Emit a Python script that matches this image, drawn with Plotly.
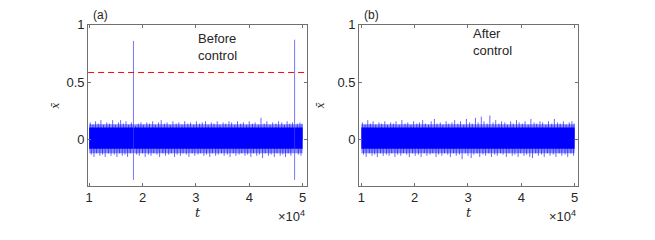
import plotly.graph_objects as go

T_SCALE = 1e4  # time values below are given in units of 10^4

# ---------------- data ----------------
tick_vals = [1, 2, 3, 4, 5]
tick_text = ["1", "2", "3", "4", "5"]
y_tick_vals = [0, 0.5, 1]
y_tick_text = ["0", "0.5", "1"]

signal_start, signal_end = 1.0, 5.0
core_hi, core_lo = 0.105, -0.078
fringe_hi, fringe_lo = 0.135, -0.118
threshold = 0.585

# panel (a): before control
burst_t_a = [1.83, 4.85]
burst_hi_a = [0.86, 0.87]
burst_lo_a = [-0.35, -0.35]

up_t_a = [1.02, 1.07, 1.12, 1.17, 1.22, 1.27, 1.33, 1.38, 1.44, 1.49, 1.55, 1.59, 1.64, 1.69, 1.74, 1.79,
          1.87, 1.92, 1.97, 2.02, 2.08, 2.13, 2.19, 2.24, 2.30, 2.35, 2.41, 2.46, 2.52, 2.57, 2.63, 2.68,
          2.74, 2.79, 2.85, 2.90, 2.96, 3.01, 3.07, 3.12, 3.18, 3.23, 3.29, 3.34, 3.40, 3.45, 3.51, 3.56,
          3.62, 3.67, 3.73, 3.78, 3.84, 3.89, 3.95, 4.00, 4.06, 4.11, 4.17, 4.22, 4.28, 4.33, 4.39, 4.44,
          4.50, 4.55, 4.61, 4.66, 4.71, 4.76, 4.81, 4.90, 4.95, 4.99]
up_v_a = [0.15, 0.13, 0.16, 0.14, 0.17, 0.13, 0.15, 0.14, 0.17, 0.13, 0.15, 0.17, 0.14, 0.16, 0.13, 0.15,
          0.12, 0.14, 0.15, 0.13, 0.15, 0.14, 0.16, 0.13, 0.15, 0.17, 0.14, 0.15, 0.13, 0.16, 0.14, 0.15,
          0.13, 0.16, 0.14, 0.15, 0.13, 0.16, 0.14, 0.15, 0.16, 0.13, 0.15, 0.14, 0.16, 0.13, 0.15, 0.14,
          0.16, 0.15, 0.13, 0.16, 0.14, 0.15, 0.13, 0.16, 0.14, 0.15, 0.13, 0.19, 0.14, 0.16, 0.13, 0.15,
          0.14, 0.16, 0.15, 0.13, 0.16, 0.14, 0.15, 0.14, 0.15, 0.14]
lo_t_a = [1.04, 1.09, 1.14, 1.20, 1.25, 1.30, 1.36, 1.41, 1.47, 1.52, 1.57, 1.62, 1.67, 1.72, 1.77,
          1.89, 1.94, 2.00, 2.05, 2.11, 2.16, 2.21, 2.27, 2.32, 2.38, 2.43, 2.49, 2.54, 2.60, 2.65, 2.71,
          2.76, 2.82, 2.87, 2.93, 2.98, 3.04, 3.09, 3.15, 3.20, 3.26, 3.31, 3.37, 3.42, 3.48, 3.53, 3.59,
          3.64, 3.70, 3.75, 3.81, 3.86, 3.92, 3.97, 4.03, 4.08, 4.14, 4.19, 4.25, 4.30, 4.36, 4.41, 4.47,
          4.52, 4.58, 4.63, 4.68, 4.73, 4.78, 4.92, 4.97]
lo_v_a = [-0.13, -0.15, -0.12, -0.14, -0.13, -0.15, -0.12, -0.14, -0.13, -0.15, -0.12, -0.14, -0.13, -0.15, -0.12,
          -0.13, -0.14, -0.12, -0.15, -0.13, -0.14, -0.12, -0.13, -0.15, -0.12, -0.14, -0.13, -0.12, -0.15, -0.13, -0.14,
          -0.12, -0.13, -0.15, -0.12, -0.14, -0.13, -0.12, -0.14, -0.13, -0.15, -0.12, -0.14, -0.13, -0.12, -0.14, -0.13,
          -0.15, -0.12, -0.14, -0.13, -0.12, -0.14, -0.13, -0.15, -0.12, -0.14, -0.13, -0.16, -0.12, -0.14, -0.13, -0.15,
          -0.12, -0.14, -0.13, -0.15, -0.12, -0.14, -0.13, -0.14]

# panel (b): after control
up_t_b = [1.02, 1.07, 1.12, 1.17, 1.22, 1.27, 1.33, 1.38, 1.44, 1.49, 1.55, 1.60, 1.65, 1.71, 1.76, 1.82,
          1.87, 1.93, 1.98, 2.04, 2.09, 2.15, 2.20, 2.26, 2.31, 2.37, 2.42, 2.48, 2.53, 2.59, 2.64, 2.70,
          2.75, 2.81, 2.86, 2.92, 2.97, 3.03, 3.08, 3.14, 3.19, 3.25, 3.30, 3.36, 3.41, 3.47, 3.52, 3.58,
          3.63, 3.69, 3.74, 3.80, 3.85, 3.91, 3.96, 4.02, 4.07, 4.13, 4.18, 4.24, 4.29, 4.35, 4.40, 4.46,
          4.51, 4.57, 4.62, 4.68, 4.73, 4.79, 4.84, 4.90, 4.95, 4.99]
up_v_b = [0.15, 0.13, 0.17, 0.14, 0.16, 0.13, 0.15, 0.14, 0.16, 0.13, 0.15, 0.14, 0.16, 0.13, 0.17, 0.14,
          0.15, 0.13, 0.16, 0.14, 0.15, 0.17, 0.14, 0.13, 0.16, 0.18, 0.14, 0.15, 0.13, 0.16, 0.14, 0.15,
          0.17, 0.14, 0.16, 0.13, 0.18, 0.15, 0.14, 0.19, 0.15, 0.20, 0.16, 0.14, 0.21, 0.15, 0.17, 0.14,
          0.16, 0.15, 0.13, 0.16, 0.14, 0.17, 0.15, 0.14, 0.16, 0.13, 0.18, 0.15, 0.14, 0.16, 0.15, 0.13,
          0.16, 0.14, 0.18, 0.15, 0.14, 0.16, 0.13, 0.15, 0.16, 0.14]
lo_t_b = [1.04, 1.09, 1.15, 1.20, 1.25, 1.30, 1.36, 1.41, 1.47, 1.52, 1.57, 1.63, 1.68, 1.74, 1.79, 1.85,
          1.90, 1.96, 2.01, 2.07, 2.12, 2.18, 2.23, 2.29, 2.34, 2.40, 2.45, 2.51, 2.56, 2.62, 2.67, 2.73,
          2.78, 2.84, 2.89, 2.95, 3.00, 3.06, 3.11, 3.17, 3.22, 3.28, 3.33, 3.39, 3.44, 3.50, 3.55, 3.61,
          3.66, 3.72, 3.77, 3.83, 3.88, 3.94, 3.99, 4.05, 4.10, 4.16, 4.21, 4.27, 4.32, 4.38, 4.43, 4.49,
          4.54, 4.60, 4.65, 4.71, 4.76, 4.82, 4.87, 4.93, 4.98]
lo_v_b = [-0.13, -0.15, -0.12, -0.14, -0.13, -0.15, -0.12, -0.14, -0.13, -0.14, -0.12, -0.15, -0.13, -0.14, -0.12, -0.13,
          -0.15, -0.12, -0.14, -0.13, -0.15, -0.12, -0.14, -0.13, -0.12, -0.15, -0.13, -0.14, -0.12, -0.13, -0.15, -0.12,
          -0.14, -0.13, -0.17, -0.12, -0.14, -0.16, -0.13, -0.12, -0.15, -0.13, -0.14, -0.12, -0.15, -0.13, -0.14, -0.12,
          -0.13, -0.15, -0.12, -0.14, -0.13, -0.15, -0.12, -0.14, -0.13, -0.15, -0.16, -0.12, -0.14, -0.13, -0.15, -0.12,
          -0.14, -0.13, -0.15, -0.12, -0.14, -0.13, -0.15, -0.12, -0.14]

x_range_a = [0.98, 5.075]
x_range_b = [0.957, 5.07]
y_range = [-0.4, 1.0]

# ---------------- figure ----------------
BLUE = "#0000ff"
AX = "#707070"
FONT = "Liberation Sans"

fig = go.Figure()


def s(v):
    return [x * T_SCALE for x in v]


def segments(ts, v0, v1):
    xs, ys = [], []
    for t, a, b in zip(ts, v0, v1):
        xs += [t * T_SCALE, t * T_SCALE, None]
        ys += [a, b, None]
    return xs, ys


def add_panel(xa, ya, up_t, up_v, lo_t, lo_v, bt=None, bh=None, bl=None):
    fig.add_trace(go.Scatter(
        x=s([signal_start, signal_end, signal_end, signal_start, signal_start]),
        y=[fringe_hi, fringe_hi, fringe_lo, fringe_lo, fringe_hi],
        fill="toself", fillcolor="rgba(0,0,255,0.45)", line=dict(width=0),
        mode="lines", xaxis=xa, yaxis=ya, hoverinfo="skip"))
    fig.add_trace(go.Scatter(
        x=s([signal_start, signal_end, signal_end, signal_start, signal_start]),
        y=[core_hi, core_hi, core_lo, core_lo, core_hi],
        fill="toself", fillcolor=BLUE, line=dict(width=0),
        mode="lines", xaxis=xa, yaxis=ya, hoverinfo="skip"))
    xs, ys = segments(up_t, [0] * len(up_t), up_v)
    xs2, ys2 = segments(lo_t, [0] * len(lo_t), lo_v)
    fig.add_trace(go.Scatter(x=xs + xs2, y=ys + ys2, mode="lines",
                             line=dict(color="rgba(0,0,255,0.6)", width=1),
                             xaxis=xa, yaxis=ya, hoverinfo="skip"))
    if bt:
        xs, ys = segments(bt, bl, bh)
        fig.add_trace(go.Scatter(x=xs, y=ys, mode="lines",
                                 line=dict(color="rgba(60,60,255,0.7)", width=1),
                                 xaxis=xa, yaxis=ya, hoverinfo="skip"))


add_panel("x", "y", up_t_a, up_v_a, lo_t_a, lo_v_a, burst_t_a, burst_hi_a, burst_lo_a)
add_panel("x2", "y2", up_t_b, up_v_b, lo_t_b, lo_v_b)

fig.add_trace(go.Scatter(x=s(x_range_a), y=[threshold, threshold], mode="lines",
                         line=dict(color="#ff0000", width=1, dash="6px,4px"),
                         xaxis="x", yaxis="y", hoverinfo="skip"))

W, H = 655, 240
dom_a = [85.5 / W, 305 / W]
dom_b = [357.7 / W, 578 / W]
dom_y = [1 - 184 / H, 1 - 18.3 / H]

axis_common = dict(showline=True, linecolor=AX, linewidth=1, mirror="ticks",
                   ticks="inside", ticklen=3, tickcolor=AX, showgrid=False, zeroline=False,
                   tickfont=dict(family=FONT, size=13, color="#262626"))

fig.update_layout(
    width=W, height=H, margin=dict(l=0, r=0, t=0, b=0),
    paper_bgcolor="white", plot_bgcolor="white", showlegend=False,
    xaxis=dict(domain=dom_a, range=s(x_range_a), tickvals=s(tick_vals), ticktext=tick_text,
               anchor="y", **axis_common),
    yaxis=dict(domain=dom_y, range=y_range, tickvals=y_tick_vals, ticktext=y_tick_text,
               anchor="x", **axis_common),
    xaxis2=dict(domain=dom_b, range=s(x_range_b), tickvals=s(tick_vals), ticktext=tick_text,
                anchor="y2", **axis_common),
    yaxis2=dict(domain=dom_y, range=y_range, tickvals=y_tick_vals, ticktext=y_tick_text,
                anchor="x2", **axis_common),
)

ann = []
txt = dict(family=FONT, size=13, color="#262626")
small = dict(family=FONT, size=12, color="#262626")
serif = dict(family="DejaVu Serif", size=13, color="#262626")
for label, px in (("(a)", 88), ("(b)", 361)):
    ann.append(dict(text=label, x=px / W, y=1 - 8 / H, xref="paper", yref="paper",
                    xanchor="left", yanchor="middle", showarrow=False, font=small))
for cx in ((86 + 305) / 2, (357.7 + 578) / 2):
    ann.append(dict(text="<i>t</i>", x=cx / W, y=1 - 212 / H, xref="paper", yref="paper",
                    xanchor="center", yanchor="middle", showarrow=False, font=serif))
for rx in (305, 578):
    ann.append(dict(text="×10<sup>4</sup>", x=rx / W, y=1 - 215 / H, xref="paper", yref="paper",
                    xanchor="right", yanchor="middle", showarrow=False, font=txt))
for lx in (52, 319):
    ann.append(dict(text="<i>x̄</i>", x=lx / W, y=1 - 101 / H, xref="paper", yref="paper",
                    xanchor="center", yanchor="middle", showarrow=False, textangle=-90,
                    font=dict(family="DejaVu Serif", size=11, color="#262626")))
ann.append(dict(text="Before<br>control", x=194 / W, y=1 - 41 / H, xref="paper", yref="paper",
                xanchor="left", yanchor="middle", align="left", showarrow=False, font=txt))
ann.append(dict(text="After<br>control", x=470 / W, y=1 - 36 / H, xref="paper", yref="paper",
                xanchor="left", yanchor="middle", align="left", showarrow=False, font=txt))
fig.update_layout(annotations=ann)

fig.write_html("out.html", config={"displayModeBar": False},
               post_script="document.body.style.margin='0';document.body.style.padding='0';")
